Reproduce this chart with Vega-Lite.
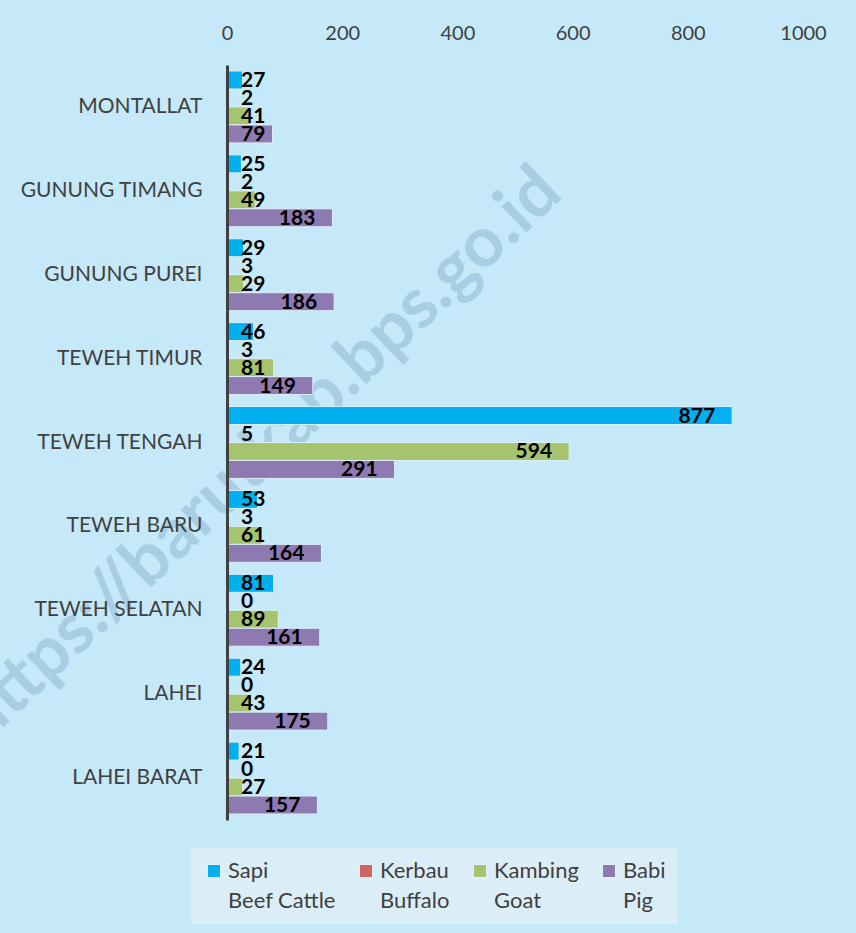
{
  "$schema": "https://vega.github.io/schema/vega-lite/v6.json",
  "width": 576,
  "height": 755,
  "autosize": {"type": "none"},
  "padding": {"left": 227, "top": 65, "right": 53, "bottom": 113},
  "background": "#C6E9F9",
  "config": {"view": {"stroke": null}, "font": "Lato"},
  "data": {
    "values": [
      {"kecamatan": "MONTALLAT", "jenis": "Sapi", "jumlah": 27},
      {"kecamatan": "MONTALLAT", "jenis": "Kerbau", "jumlah": 2},
      {"kecamatan": "MONTALLAT", "jenis": "Kambing", "jumlah": 41},
      {"kecamatan": "MONTALLAT", "jenis": "Babi", "jumlah": 79},
      {"kecamatan": "GUNUNG TIMANG", "jenis": "Sapi", "jumlah": 25},
      {"kecamatan": "GUNUNG TIMANG", "jenis": "Kerbau", "jumlah": 2},
      {"kecamatan": "GUNUNG TIMANG", "jenis": "Kambing", "jumlah": 49},
      {"kecamatan": "GUNUNG TIMANG", "jenis": "Babi", "jumlah": 183},
      {"kecamatan": "GUNUNG PUREI", "jenis": "Sapi", "jumlah": 29},
      {"kecamatan": "GUNUNG PUREI", "jenis": "Kerbau", "jumlah": 3},
      {"kecamatan": "GUNUNG PUREI", "jenis": "Kambing", "jumlah": 29},
      {"kecamatan": "GUNUNG PUREI", "jenis": "Babi", "jumlah": 186},
      {"kecamatan": "TEWEH TIMUR", "jenis": "Sapi", "jumlah": 46},
      {"kecamatan": "TEWEH TIMUR", "jenis": "Kerbau", "jumlah": 3},
      {"kecamatan": "TEWEH TIMUR", "jenis": "Kambing", "jumlah": 81},
      {"kecamatan": "TEWEH TIMUR", "jenis": "Babi", "jumlah": 149},
      {"kecamatan": "TEWEH TENGAH", "jenis": "Sapi", "jumlah": 877},
      {"kecamatan": "TEWEH TENGAH", "jenis": "Kerbau", "jumlah": 5},
      {"kecamatan": "TEWEH TENGAH", "jenis": "Kambing", "jumlah": 594},
      {"kecamatan": "TEWEH TENGAH", "jenis": "Babi", "jumlah": 291},
      {"kecamatan": "TEWEH BARU", "jenis": "Sapi", "jumlah": 53},
      {"kecamatan": "TEWEH BARU", "jenis": "Kerbau", "jumlah": 3},
      {"kecamatan": "TEWEH BARU", "jenis": "Kambing", "jumlah": 61},
      {"kecamatan": "TEWEH BARU", "jenis": "Babi", "jumlah": 164},
      {"kecamatan": "TEWEH SELATAN", "jenis": "Sapi", "jumlah": 81},
      {"kecamatan": "TEWEH SELATAN", "jenis": "Kerbau", "jumlah": 0},
      {"kecamatan": "TEWEH SELATAN", "jenis": "Kambing", "jumlah": 89},
      {"kecamatan": "TEWEH SELATAN", "jenis": "Babi", "jumlah": 161},
      {"kecamatan": "LAHEI", "jenis": "Sapi", "jumlah": 24},
      {"kecamatan": "LAHEI", "jenis": "Kerbau", "jumlah": 0},
      {"kecamatan": "LAHEI", "jenis": "Kambing", "jumlah": 43},
      {"kecamatan": "LAHEI", "jenis": "Babi", "jumlah": 175},
      {"kecamatan": "LAHEI BARAT", "jenis": "Sapi", "jumlah": 21},
      {"kecamatan": "LAHEI BARAT", "jenis": "Kerbau", "jumlah": 0},
      {"kecamatan": "LAHEI BARAT", "jenis": "Kambing", "jumlah": 27},
      {"kecamatan": "LAHEI BARAT", "jenis": "Babi", "jumlah": 157}
    ]
  },
  "layer": [
    {
      "data": {"values": [{"watermark": "https://barutkab.bps.go.id"}]},
      "mark": {"type": "text", "align": "center", "baseline": "middle", "angle": -43.4, "dx": -19, "font": "Lato", "fontSize": 70, "fontWeight": "bold", "color": "#6A98BA", "opacity": 0.32},
      "encoding": {
        "x": {"datum": 81, "type": "quantitative"},
        "y": {"datum": "TEWEH TENGAH", "type": "nominal"},
        "text": {"field": "watermark", "type": "nominal"}
      }
    },
    {
      "mark": {"type": "bar", "stroke": "#DCEFFA", "strokeWidth": 1},
      "encoding": {
        "y": {
          "field": "kecamatan", "type": "nominal",
          "sort": ["MONTALLAT", "GUNUNG TIMANG", "GUNUNG PUREI", "TEWEH TIMUR", "TEWEH TENGAH", "TEWEH BARU", "TEWEH SELATAN", "LAHEI", "LAHEI BARAT"],
          "scale": {"paddingInner": 0.143, "paddingOuter": 0.0715},
          "axis": {"title": null, "ticks": false, "domainColor": "#404040", "domainWidth": 3, "zindex": 2, "labelFontSize": 21, "labelColor": "#404040", "labelFont": "Lato", "labelPadding": 25, "labelLimit": 0}
        },
        "yOffset": {"field": "jenis", "type": "nominal", "sort": ["Sapi", "Kerbau", "Kambing", "Babi"], "scale": {"paddingInner": 0, "paddingOuter": 0}},
        "x": {
          "field": "jumlah", "type": "quantitative",
          "scale": {"domain": [0, 1000], "nice": false},
          "axis": {"orient": "top", "title": null, "grid": false, "ticks": false, "domain": false, "values": [0, 200, 400, 600, 800, 1000], "format": "d", "labelFlush": false, "labelFontSize": 20, "labelColor": "#404040", "labelFont": "Lato", "labelPadding": 22}
        },
        "color": {
          "field": "jenis", "type": "nominal",
          "scale": {"domain": ["Sapi", "Kerbau", "Kambing", "Babi"], "range": ["#00B0F0", "#CB6662", "#A6C36F", "#8E79B1"]},
          "legend": {
            "title": null, "orient": "none", "legendX": -36, "legendY": 783,
            "direction": "horizontal", "columns": 4, "columnPadding": 19,
            "fillColor": "#DBEEF8", "padding": 12,
            "symbolType": "square", "symbolSize": 169, "symbolStrokeWidth": 1, "symbolStrokeColor": "#E3F2FB",
            "labelFontSize": 22, "labelColor": "#404040", "labelFont": "Lato", "labelOffset": 3, "labelLimit": 0,
            "labelExpr": "datum.label == 'Sapi' ? ['Sapi', 'Beef Cattle'] : datum.label == 'Kerbau' ? ['Kerbau', 'Buffalo'] : datum.label == 'Kambing' ? ['Kambing', 'Goat'] : ['Babi', 'Pig']",
            "encoding": {"labels": {"lineHeight": {"value": 30}}}
          }
        }
      }
    },
    {
      "transform": [{"filter": "datum.jumlah >= 100"}],
      "mark": {"type": "text", "align": "right", "baseline": "middle", "dx": -17, "dy": 1, "font": "Lato", "fontSize": 21, "fontWeight": "bold", "color": "#000000"},
      "encoding": {
        "y": {"field": "kecamatan", "type": "nominal", "sort": ["MONTALLAT", "GUNUNG TIMANG", "GUNUNG PUREI", "TEWEH TIMUR", "TEWEH TENGAH", "TEWEH BARU", "TEWEH SELATAN", "LAHEI", "LAHEI BARAT"]},
        "yOffset": {"field": "jenis", "type": "nominal", "sort": ["Sapi", "Kerbau", "Kambing", "Babi"]},
        "x": {"field": "jumlah", "type": "quantitative"},
        "text": {"field": "jumlah", "type": "quantitative"}
      }
    },
    {
      "transform": [{"filter": "datum.jumlah < 100"}],
      "mark": {"type": "text", "align": "left", "baseline": "middle", "dx": 14, "dy": 1, "font": "Lato", "fontSize": 21, "fontWeight": "bold", "color": "#000000"},
      "encoding": {
        "y": {"field": "kecamatan", "type": "nominal", "sort": ["MONTALLAT", "GUNUNG TIMANG", "GUNUNG PUREI", "TEWEH TIMUR", "TEWEH TENGAH", "TEWEH BARU", "TEWEH SELATAN", "LAHEI", "LAHEI BARAT"]},
        "yOffset": {"field": "jenis", "type": "nominal", "sort": ["Sapi", "Kerbau", "Kambing", "Babi"]},
        "x": {"datum": 0, "type": "quantitative"},
        "text": {"field": "jumlah", "type": "quantitative"}
      }
    }
  ]
}
